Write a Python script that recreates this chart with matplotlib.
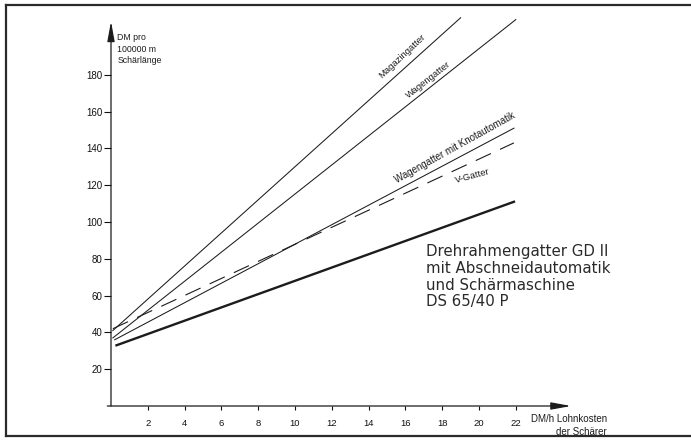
import matplotlib
matplotlib.use("Agg")
import matplotlib.pyplot as plt
from matplotlib.lines import Line2D

plt.rcParams['font.family'] = ['Liberation Sans', 'DejaVu Sans']

# Daten - Anfangs- und Endpunkte der Geraden
magazin_x = [0.1, 19.0]
magazin_y = [41, 211]
wagen_x = [0.1, 22.0]
wagen_y = [37, 210]
knot_x = [0.2, 21.9]
knot_y = [36, 151]
vgatter_x = [0.1, 21.9]
vgatter_y = [42, 143]
dreh_x = [0.3, 21.9]
dreh_y = [33, 111]

x_ticks = [2, 4, 6, 8, 10, 12, 14, 16, 18, 20, 22]
y_ticks = [20, 40, 60, 80, 100, 120, 140, 160, 180]

INK = '#1c1c1c'

fig = plt.figure(figsize=(6.91, 4.41), dpi=100)
# achse: x=0 bei px 111, y=0 bei px 406 (18.4 px pro DM/h, 1.84 px pro DM)
ax = fig.add_axes([111 / 691, 35 / 441, 25.5 * 18.4 / 691, 215 * 1.84 / 441])
ax.set_xlim(0, 25.5)
ax.set_ylim(0, 215)
for s in ax.spines.values():
    s.set_visible(False)

# Rahmen (ohne rechte Kante)
for xs, ys in [([6, 691], [5, 5]), ([6, 691], [436, 436]), ([6, 6], [5, 436])]:
    fig.add_artist(Line2D([v / 691 for v in xs], [1 - v / 441 for v in ys],
                          color='#2a2a2a', lw=1.6))

# Achsen mit Pfeilen
ax.annotate('', xy=(25.0, 0), xytext=(-0.2, 0),
            arrowprops=dict(arrowstyle='-|>,head_length=1.2,head_width=0.22',
                            lw=0.9, color=INK, shrinkA=0, shrinkB=0), annotation_clip=False)
ax.annotate('', xy=(0, 209), xytext=(0, 0),
            arrowprops=dict(arrowstyle='-|>,head_length=1.2,head_width=0.22',
                            lw=0.9, color=INK, shrinkA=0, shrinkB=0), annotation_clip=False)

ax.set_xticks(x_ticks)
ax.set_yticks(y_ticks)
ax.tick_params(axis='x', direction='out', length=3, width=0.8, pad=6, labelsize=6.8, colors='#111111')
ax.tick_params(axis='y', direction='out', length=5, width=0.8, pad=1, labelsize=7, colors='#111111')

# Geraden
ax.plot(magazin_x, magazin_y, color=INK, lw=0.75, clip_on=False)
ax.plot(wagen_x, wagen_y, color=INK, lw=0.75, clip_on=False)
ax.plot(knot_x, knot_y, color=INK, lw=0.75)
ax.plot(vgatter_x, vgatter_y, color=INK, lw=0.8, dashes=(15, 9))
ax.plot(dreh_x, dreh_y, color=INK, lw=1.7)

# Beschriftung der Geraden
ax.text(15.82, 190.2, 'Magazingatter', rotation=43, fontsize=6.8, color=INK,
        ha='center', va='center')
ax.text(17.23, 177.2, 'Wagengatter', rotation=38, fontsize=6.8, color=INK,
        ha='center', va='center')
ax.text(18.7, 140.2, 'Wagengatter mit Knotautomatik', rotation=29, fontsize=7,
        color=INK, ha='center', va='center')
ax.text(19.67, 125.0, 'V-Gatter', rotation=15, fontsize=6.8, color=INK,
        ha='center', va='center')

# Achsentitel
ax.text(0.35, 202.5, 'DM pro\n100000 m\nSchärlänge', fontsize=6.3, color=INK,
        ha='left', va='top', linespacing=1.35)
ax.text(26.95, -4.5, 'DM/h Lohnkosten\nder Schärer', fontsize=7, color=INK,
        ha='right', va='top', linespacing=1.3, multialignment='right')

# Maschinenbezeichnung
ax.text(17.1, 88.0, 'Drehrahmengatter GD II\nmit Abschneidautomatik\nund Schärmaschine\nDS 65/40 P',
        fontsize=10.8, color='#2a2a2a', ha='left', va='top', linespacing=1.15,
        family=['DejaVu Sans'])

fig.savefig('out.png', dpi=100)
